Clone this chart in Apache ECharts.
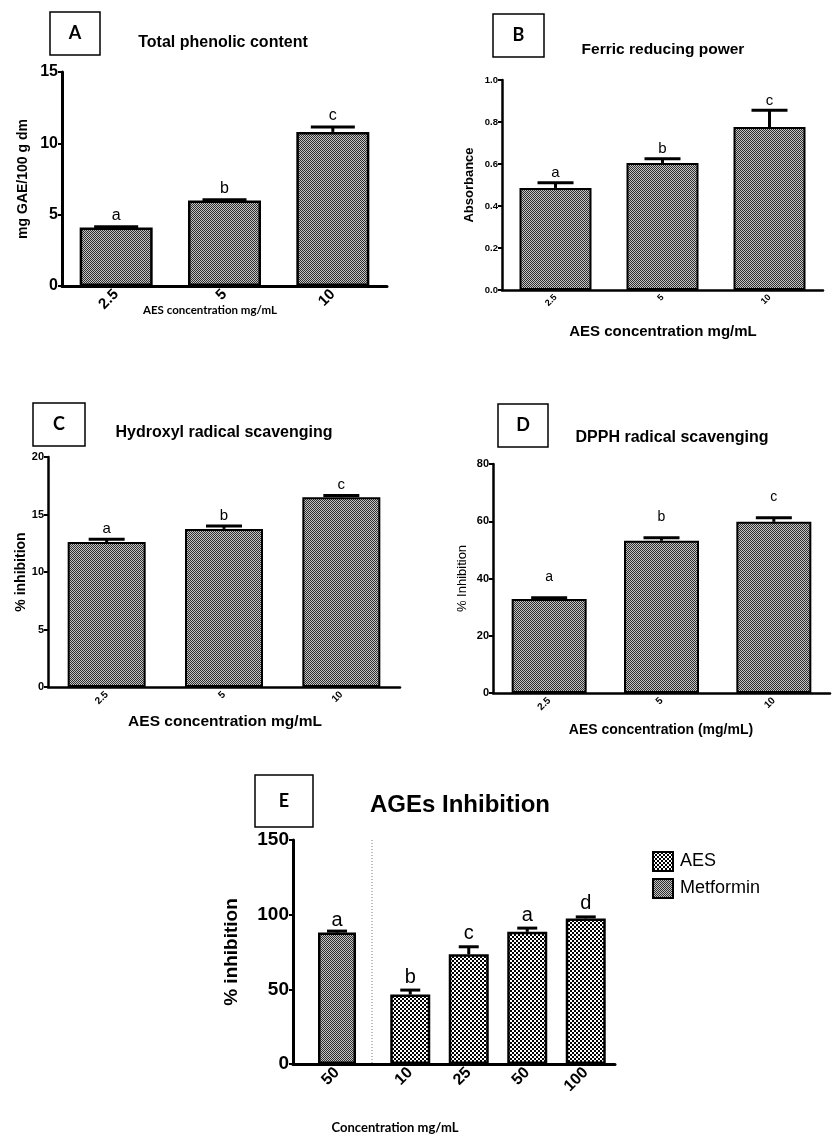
<!DOCTYPE html>
<html><head><meta charset="utf-8">
<script src="https://cdn.jsdelivr.net/npm/echarts@6/dist/echarts.min.js"></script>
<style>html,body{margin:0;padding:0;background:#fff}#c{width:835px;height:1135px}</style>
</head><body><div id="c"></div>
<script>
// ---- data ----
const catsABCD = ['2.5', '5', '10'];
const phenolic = [4.1, 6.0, 10.8];
const phenolicErr = [0.05, 0.05, 0.35];
const phenolicLetters = ['a', 'b', 'c'];
const ferric = [0.486, 0.605, 0.776];
const ferricErr = [0.025, 0.02, 0.08];
const ferricLetters = ['a', 'b', 'c'];
const hydroxyl = [12.6, 13.75, 16.5];
const hydroxylErr = [0.25, 0.25, 0.15];
const hydroxylLetters = ['a', 'b', 'c'];
const dpph = [32.8, 53.2, 59.8];
const dpphErr = [0.5, 1.0, 1.4];
const dpphLetters = ['a', 'b', 'c'];
const catsMet = ['50'];
const metformin = [88];
const metforminErr = [1];
const metforminLetters = ['a'];
const catsAES = ['10', '25', '50', '100'];
const aes = [46.5, 73.5, 88.5, 97.5];
const aesErr = [3, 5, 2.5, 1];
const aesLetters = ['b', 'c', 'a', 'd'];

// ---- patterns ----
function makePattern(size, block, c1, c2) {
  const cv = document.createElement('canvas');
  cv.width = size; cv.height = size;
  const ctx = cv.getContext('2d');
  ctx.fillStyle = c2; ctx.fillRect(0, 0, size, size);
  ctx.fillStyle = c1;
  for (let y = 0; y < size; y += block) for (let x = 0; x < size; x += block) {
    if (((x / block) + (y / block)) % 2 === 0) ctx.fillRect(x, y, block, block);
  }
  return { image: cv, repeat: 'repeat' };
}
const finePat = makePattern(2, 1, '#2e2e2e', '#c4c4c4');
const coarsePat = makePattern(4, 2, '#000000', '#ffffff');

const ARIAL = 'Liberation Sans';
const CAL = 'Lato';

function errSeries(x, y, vals, errs, letters, capHalf, lw, gap, fs) {
  return {
    type: 'custom', xAxisIndex: x, yAxisIndex: y, z: 5, silent: true,
    data: vals.map((v, i) => [i, v, errs[i]]),
    renderItem: function (params, api) {
      const i = api.value(0), v = api.value(1), e = api.value(2);
      const b = api.coord([i, v]);
      const t = api.coord([i, v + e]);
      const st = { stroke: '#000', lineWidth: lw };
      return {
        type: 'group', children: [
          { type: 'line', shape: { x1: b[0], y1: b[1], x2: t[0], y2: t[1] }, style: st },
          { type: 'line', shape: { x1: t[0] - capHalf, y1: t[1], x2: t[0] + capHalf, y2: t[1] }, style: st },
          { type: 'text', x: t[0], y: t[1] - gap, style: { text: letters[params.dataIndex], fill: '#000', font: fs + 'px "' + ARIAL + '"', textAlign: 'center', textVerticalAlign: 'bottom' } }
        ]
      };
    }
  };
}

function xAx(idx, cats, fs, lw) {
  return {
    type: 'category', gridIndex: idx, data: cats,
    axisLine: { lineStyle: { color: '#000', width: lw } },
    axisTick: { alignWithLabel: true, length: 4, lineStyle: { color: '#000', width: 2 } },
    axisLabel: { rotate: 45, color: '#000', fontWeight: 'bold', fontSize: fs, fontFamily: ARIAL, margin: 6 }
  };
}
function yAx(idx, max, interval, fs, lw, name, nfs, ngap, nweight, fmt) {
  return {
    type: 'value', gridIndex: idx, min: 0, max: max, interval: interval,
    splitLine: { show: false },
    axisLine: { show: true, lineStyle: { color: '#000', width: lw } },
    axisTick: { show: true, length: 4, lineStyle: { color: '#000', width: 2 } },
    axisLabel: { color: '#000', fontWeight: 'bold', fontSize: fs, fontFamily: ARIAL, margin: 4, formatter: fmt },
    name: name, nameLocation: 'middle', nameGap: ngap,
    nameTextStyle: { color: '#000', fontWeight: nweight, fontSize: nfs, fontFamily: ARIAL }
  };
}
function barS(x, y, vals, bw, pat, name, bwid) {
  return {
    type: 'bar', name: name, xAxisIndex: x, yAxisIndex: y, data: vals, barWidth: bw,
    itemStyle: { color: pat, borderColor: '#000', borderWidth: bwid }
  };
}

function box(x, y, w, h, letter, fs) {
  return [
    { type: 'rect', shape: { x: x, y: y, width: w, height: h }, style: { fill: '#fff', stroke: '#000', lineWidth: 1.5 } },
    { type: 'text', x: x + w / 2, y: y + h / 2, style: { text: letter, fill: '#000', font: 'bold ' + fs + 'px "' + CAL + '"', textAlign: 'center', textVerticalAlign: 'middle' } }
  ];
}
function txt(x, y, s, font, align) {
  return { type: 'text', x: x, y: y, style: { text: s, fill: '#000', font: font, textAlign: align || 'center', textVerticalAlign: 'middle' } };
}

const chart = echarts.init(document.getElementById('c'), null, { renderer: 'canvas' });
chart.setOption({
  backgroundColor: '#fff',
  animation: false,
  grid: [
    { left: 62, top: 72, width: 325, height: 214 },
    { left: 502, top: 80, width: 321, height: 210 },
    { left: 48, top: 457, width: 352, height: 230 },
    { left: 493, top: 464, width: 337, height: 229 },
    { left: 293, top: 840, width: 88, height: 224 },
    { left: 381, top: 840, width: 234, height: 224 }
  ],
  legend: {
    orient: 'vertical', left: 647, top: 846, itemWidth: 20, itemHeight: 19, itemGap: 6,
    icon: 'rect',
    data: ['AES', 'Metformin'],
    textStyle: { color: '#000', fontSize: 18, fontFamily: ARIAL, padding: [0, 0, 0, 2] },
    selectedMode: false
  },
  xAxis: [
    xAx(0, catsABCD, 15, 3),
    xAx(1, catsABCD, 9, 2.5),
    xAx(2, catsABCD, 10, 2.5),
    xAx(3, catsABCD, 10, 2.5),
    xAx(4, catsMet, 16, 3),
    xAx(5, catsAES, 16, 3)
  ],
  yAxis: [
    yAx(0, 15, 5, 16, 3, 'mg GAE/100 g dm', 14, 32, 'bold'),
    yAx(1, 1.0, 0.2, 9.5, 2.5, 'Absorbance', 13, 26, 'bold', v => v.toFixed(1)),
    yAx(2, 20, 5, 11, 2.5, '% inhibition', 14, 20, 'bold'),
    yAx(3, 80, 20, 11, 2.5, '% Inhibition', 13, 24, 'normal'),
    yAx(4, 150, 50, 19, 3, '% inhibition', 19, 52, 'bold'),
    Object.assign(yAx(5, 150, 50, 19, 3, '', 19, 40, 'bold'), { show: false })
  ],
  series: [
    barS(0, 0, phenolic, 73, finePat, 'phenolic', 2.5),
    errSeries(0, 0, phenolic, phenolicErr, phenolicLetters, 22, 3, 3, 16),
    barS(1, 1, ferric, 72, finePat, 'ferric', 2),
    errSeries(1, 1, ferric, ferricErr, ferricLetters, 18, 3, 2, 15),
    barS(2, 2, hydroxyl, 78, finePat, 'hydroxyl', 2),
    errSeries(2, 2, hydroxyl, hydroxylErr, hydroxylLetters, 18, 3, 3, 15),
    barS(3, 3, dpph, 75, finePat, 'dpph', 2),
    errSeries(3, 3, dpph, dpphErr, dpphLetters, 18, 3, 14, 14),
    barS(4, 4, metformin, 38, finePat, 'Metformin', 2.5),
    errSeries(4, 4, metformin, metforminErr, metforminLetters, 10, 3, 1, 20),
    barS(5, 5, aes, 40, coarsePat, 'AES', 2.5),
    errSeries(5, 5, aes, aesErr, aesLetters, 10, 3, 3, 20)
  ],
  graphic: [].concat(
    box(50, 12, 50, 43, 'A', 18),
    [txt(223, 43, 'Total phenolic content', 'bold 16px "' + ARIAL + '"'),
     txt(210, 310, 'AES concentration mg/mL', 'bold 11.5px "' + CAL + '"')],
    box(493, 14, 51, 43, 'B', 18),
    [txt(663, 50, 'Ferric reducing power', 'bold 15.5px "' + ARIAL + '"'),
     txt(663, 332, 'AES concentration mg/mL', 'bold 15px "' + ARIAL + '"')],
    box(33, 403, 52, 43, 'C', 18),
    [txt(224, 433, 'Hydroxyl radical scavenging', 'bold 16px "' + ARIAL + '"'),
     txt(225, 722, 'AES concentration mg/mL', 'bold 15.5px "' + ARIAL + '"')],
    box(498, 404, 50, 43, 'D', 18),
    [txt(672, 438, 'DPPH radical scavenging', 'bold 16px "' + ARIAL + '"'),
     txt(661, 730, 'AES concentration (mg/mL)', 'bold 14px "' + ARIAL + '"')],
    box(255, 775, 58, 52, 'E', 18),
    [txt(460, 805, 'AGEs Inhibition', 'bold 24px "' + ARIAL + '"'),
     txt(395, 1128, 'Concentration mg/mL', 'bold 13px "' + CAL + '"'),
     { type: 'line', shape: { x1: 372, y1: 840, x2: 372, y2: 1063 }, style: { stroke: '#777', lineWidth: 1, lineDash: [1, 2] } }]
  )
});
</script>
</body></html>
